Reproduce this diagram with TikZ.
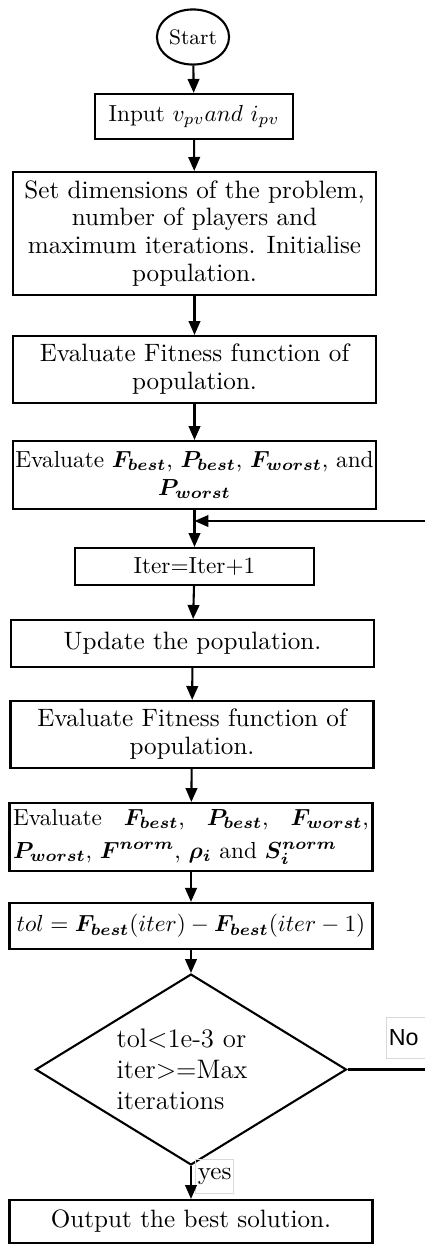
\documentclass[tikz,border=0pt]{standalone}
\usepackage{fontspec}
\usepackage{amsmath}
\usepackage{bm}
\usetikzlibrary{arrows.meta}
\usetikzlibrary{shapes.geometric}
\newfontfamily\nofont{Liberation Sans}
\newcommand{\Fbest}{\bm{F}_{\bm{best}}}
\newcommand{\Pbest}{\bm{P}_{\bm{best}}}
\newcommand{\Fworst}{\bm{F}_{\bm{worst}}}
\newcommand{\Pworst}{\bm{P}_{\bm{worst}}}

\begin{document}
\begin{tikzpicture}[x=0.43pt,y=-0.43pt,
  every node/.style={font=\fontsize{10.8}{12}\selectfont},
  small/.style={font=\fontsize{10}{12}\selectfont},
  box/.style={draw,line width=0.9pt,minimum width=156.1pt,inner sep=2pt,align=center},
  flow/.style={line width=0.9pt,-{Triangle[length=6pt,width=5pt]}},
  tag/.style={draw=black!15,line width=0.4pt,inner sep=1pt}]
\useasboundingbox (0,0) rectangle (425,1245);
% main column
\node[draw,ellipse,line width=0.9pt,minimum width=31pt,minimum height=23.7pt,inner sep=0pt,font=\fontsize{9}{10}\selectfont] (start) at (193,37) {Start};
\node[box,small,minimum width=85.1pt,minimum height=19.4pt] (input) at (194,116.5) {Input $v_{pv}and~i_{pv}$};
\node[box,minimum height=52.9pt] (setdim) at (194.5,233.5) {Set dimensions of the problem,\\number of players and\\maximum iterations. Initialise\\population.};
\node[box,minimum height=28.8pt] (evalfit) at (194.5,369.5) {Evaluate Fitness function of\\population.};
\node[box,small,minimum height=29.2pt,inner sep=1pt] (evalbest) at (194.5,475) {Evaluate $\Fbest$, $\Pbest$, $\Fworst$, and\\$\Pworst$};
\node[box,small,minimum width=102.8pt,minimum height=15.9pt] (iter) at (194.5,566.5) {Iter=Iter+1};
\node[box,minimum height=20.2pt] (update) at (192.5,643.5) {Update the population.};
\node[box,minimum height=28.8pt] (evalfit2) at (192,734.5) {Evaluate Fitness function of\\population.};
\node[box,minimum height=29.2pt,text width=153pt,inner sep=1.5pt,align=left,font=\fontsize{10}{14}\selectfont] (evalnorm) at (191,837) {Evaluate\hfill$\Fbest$,\hfill$\Pbest$,\hfill$\Fworst$,\\$\Pworst$, $\bm{F}^{\bm{norm}}$, $\bm{\rho}_{\bm{i}}$ and\,\,$\bm{S}_{\bm{i}}^{\bm{norm}}$};
\node[box,small,minimum height=19.8pt] (tol) at (191,926) {$tol=\Fbest(iter)-\Fbest(iter-1)$};
\node[draw,diamond,aspect=1.63,line width=0.9pt,minimum width=133.7pt,minimum height=82.1pt,inner sep=0pt,text width=64pt,align=left,font=\fontsize{11.5}{13.3}\selectfont] (check) at (191,1069.5) {tol<1e-3 or\\iter>=Max\\iterations};
\node[box,minimum height=18.5pt] (output) at (191,1221.5) {Output the best solution.};
% labels
\node[tag,anchor=west,minimum height=17.6pt,text width=18pt,align=left,font=\nofont\fontsize{10}{12}\selectfont] (nolabel) at (386,1037.5) {No};
\node[tag,anchor=north west,minimum height=14.6pt] (yeslabel) at (195,1159) {yes};
% connectors
\coordinate (merge) at (evalbest.south |- 0,521);
\draw[flow] (start) -- (input);
\draw[flow] (input) -- (setdim);
\draw[flow] (setdim) -- (evalfit);
\draw[flow] (evalfit) -- (evalbest);
\draw[flow] (evalbest) -- (iter);
\draw[flow] (iter) -- (update);
\draw[flow] (update) -- (evalfit2);
\draw[flow] (evalfit2) -- (evalnorm);
\draw[flow] (evalnorm) -- (tol);
\draw[flow] (tol) -- (check);
\draw[flow] (check) -- (output);
\draw[flow] (check.east) -- ++(100,0) |- (merge);
\end{tikzpicture}
\end{document}
